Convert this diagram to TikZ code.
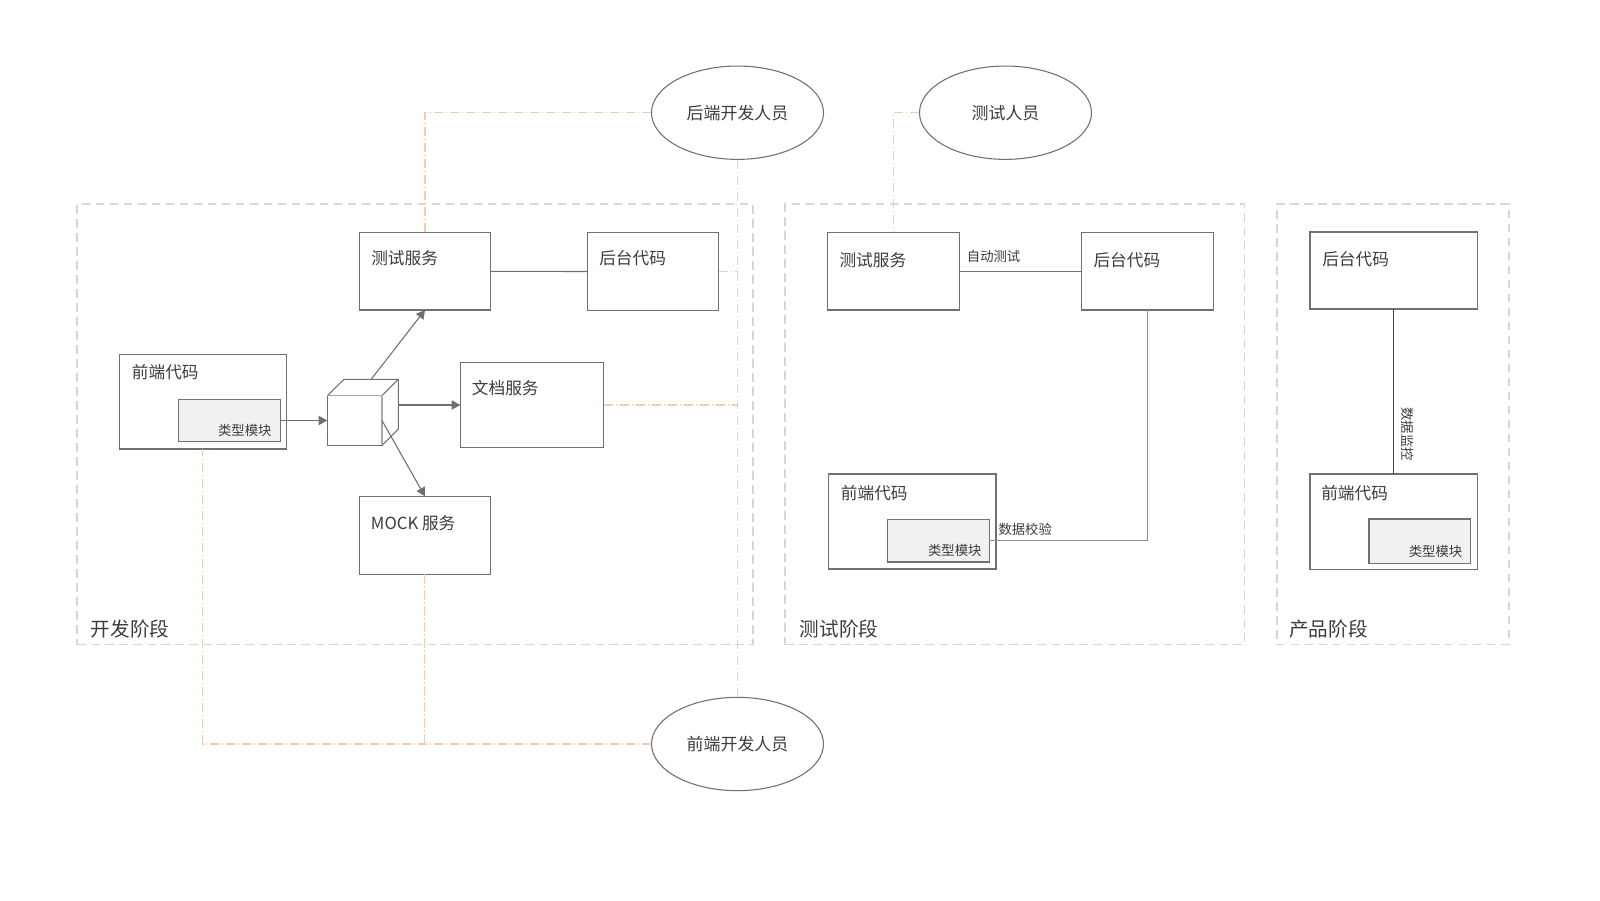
\documentclass[tikz,border=0pt]{standalone}
\usepackage{fontspec}
\setmainfont{Noto Sans CJK SC}
\usetikzlibrary{shapes.geometric,arrows.meta,fit}
\definecolor{boxline}{HTML}{707070}
\definecolor{txt}{HTML}{3C3C3C}
\definecolor{peach}{HTML}{F2CDB6}
\definecolor{stagegray}{HTML}{D6D6D6}
\definecolor{modfill}{HTML}{F1F1F1}
\definecolor{cubelight}{HTML}{A8A8A8}
\tikzset{
 box/.style={draw=boxline, line width=0.9pt, inner sep=0pt, outer sep=0pt, rectangle},
 modbox/.style={box, fill=modfill},
 ghost/.style={inner sep=0pt, outer sep=0pt, rectangle},
 stagebox/.style={draw=stagegray, line width=1.4pt, dash pattern=on 6.5pt off 4pt, inner sep=0pt, rectangle},
 person/.style={ellipse, draw=boxline, line width=0.8pt, minimum width=129pt, minimum height=70pt, inner sep=0pt, text=txt, font=\fontsize{12.7pt}{15pt}\selectfont},
 boxtext/.style={anchor=west, inner sep=0pt, text=txt, font=\fontsize{12.5pt}{15pt}\selectfont},
 modtext/.style={anchor=east, inner sep=0pt, text=txt, font=\fontsize{10pt}{12pt}\selectfont},
 smalltext/.style={anchor=west, inner sep=0pt, text=txt, font=\fontsize{10pt}{12pt}\selectfont},
 stagetext/.style={anchor=west, inner sep=0pt, text=txt, font=\fontsize{14.7pt}{17pt}\selectfont},
 arr/.style={draw=boxline, line width=0.8pt, -{Triangle[length=6.5pt,width=7pt]}},
 link/.style={draw=boxline, line width=0.8pt},
 peachline/.style={draw=peach, line width=0.8pt, dash pattern=on 7pt off 2pt on 1pt off 2pt},
}
\begin{document}
\begin{tikzpicture}[x=0.75pt,y=-0.75pt]
\useasboundingbox[fill=white] (0,0) rectangle (1600,900);

% stages
\node[stagebox, fit={(77.3,204.3) (752.7,644.5)}] (devstage) {};
\node[stagebox, fit={(785,204.3) (1244.5,644.5)}] (teststage) {};
\node[stagebox, fit={(1276.7,204.3) (1508.6,644.5)}] (prodstage) {};
\node[stagetext] (devlabel) at (90.7,629.3) {开发阶段};
\node[stagetext] (testlabel) at (799.6,629.3) {测试阶段};
\node[stagetext] (prodlabel) at (1289,629.3) {产品阶段};

% people
\node[person] (bdev) at (737.5,112.7) {后端开发人员};
\node[person] (tester) at (1005.5,112.7) {测试人员};
\node[person] (fdev) at (737.5,744) {前端开发人员};

% development stage boxes
\node[box, fit={(119.3,354.3) (286.3,449)}] (dfront) {};
\node[modbox, fit={(178.3,399.3) (280.7,441.7)}] (dtype) {};
\node[box, fit={(359.3,232.7) (490.7,310)}] (dtest) {};
\node[box, fit={(587.3,232.7) (718.7,310.3)}] (dback) {};
\node[box, fit={(460.3,362.7) (603.7,447.3)}] (ddoc) {};
\node[box, fit={(359.3,496.3) (490.5,574.3)}] (dmock) {};
\node[boxtext] (dfronttxt) at (131.7,372) {前端代码};
\node[modtext] (dtypetxt) at (271.7,430) {类型模块};
\node[boxtext] (dtesttxt) at (371,258.3) {测试服务};
\node[boxtext] (dbacktxt) at (599,258.3) {后台代码};
\node[boxtext] (ddoctxt) at (471.7,387.7) {文档服务};
\node[boxtext] (dmocktxt) at (370.7,522.7) {MOCK 服务};

% cube
\node[box, fit={(327.3,395.7) (382,445.3)}] (cube) {};
\node[ghost, fit={(344,379.3) (398.3,429)}] (cubeback) {};
\draw[link] (cube.north west) -- (cubeback.north west) -- (cubeback.north east) -- (cubeback.south east) -- (cube.south east);
\draw[link] (cube.north east) -- (cubeback.north east);
\draw[draw=cubelight, line width=1.1pt] (cube.north west) -- (cube.north east) -- (cube.south east);

% peach relation lines
\draw[peachline] (bdev.west) -| (dtest.north);
\draw[peachline] (bdev.south) -- (fdev.north);
\draw[peachline] (dback.east) -- (dback.east -| bdev.south);
\draw[peachline] (ddoc.east) -- (ddoc.east -| bdev.south);
\draw[peachline] (fdev.west) -| (dfront.south);
\draw[peachline] (dmock.south) -- (dmock.south |- fdev.west);

% arrows
\draw[arr] (dtype.east) -- (cube.west);
\draw[arr] (cubeback.east |- ddoc.west) -- (ddoc.west);
\draw[arr] (cubeback.north) -- (dtest.south);
\draw[arr] (cube.east) -- (dmock.north);
\draw[link] (dtest.east) -- (dback.west);

% test stage
\node[box, fit={(827.3,232.3) (959.3,310)}] (ttest) {};
\node[box, fit={(1081.7,232.3) (1213.3,310)}] (tback) {};
\node[box, fit={(828.3,474) (996,569)}] (tfront) {};
\node[modbox, fit={(887.3,519.3) (989.3,562)}] (ttype) {};
\node[boxtext] (ttesttxt) at (839.3,260) {测试服务};
\node[boxtext] (tbacktxt) at (1093.3,260) {后台代码};
\node[boxtext] (tfronttxt) at (840.7,492.7) {前端代码};
\node[modtext] (ttypetxt) at (981.7,550) {类型模块};
\draw[peachline] (tester.west) -| (ttest.north);
\draw[link] (ttest.east) -- (tback.west);
\node[smalltext] (autotest) at (966.7,256.7) {自动测试};
\draw[link, draw=boxline!80] (tback.south) |- (ttype.east);
\node[smalltext] (datacheck) at (998.3,529.3) {数据校验};

% product stage
\node[box, fit={(1310,232) (1477.5,309)}] (pback) {};
\node[box, fit={(1310,474) (1477.5,569.5)}] (pfront) {};
\node[modbox, fit={(1369,519) (1470.5,563.4)}] (ptype) {};
\node[boxtext] (pbacktxt) at (1322,258.7) {后台代码};
\node[boxtext] (pfronttxt) at (1321,492.7) {前端代码};
\node[modtext] (ptypetxt) at (1462.5,551.5) {类型模块};
\draw[draw=black!75, line width=0.8pt] (pback.south) -- (pfront.north);
\node[inner sep=0pt, text=txt, font=\fontsize{10pt}{12pt}\selectfont, rotate=-90] (monitor) at (1407.5,434) {数据监控};
\end{tikzpicture}
\end{document}
